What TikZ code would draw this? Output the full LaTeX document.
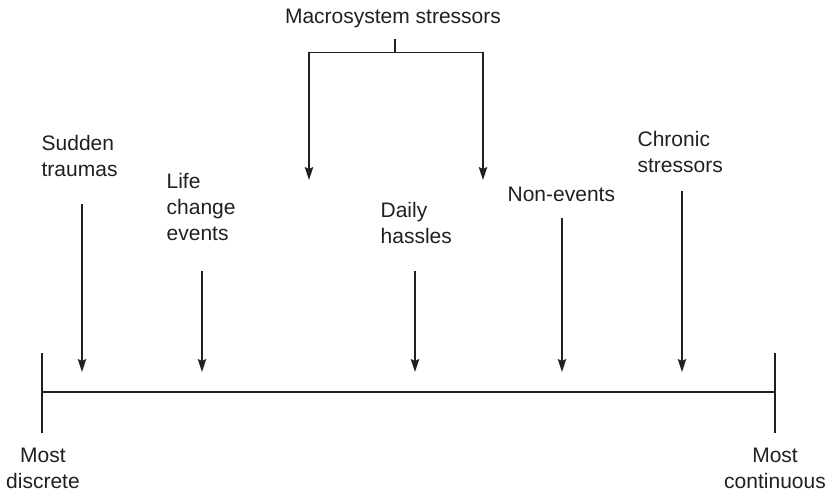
\documentclass[tikz,border=0pt]{standalone}
\usepackage{fontspec}
\setmainfont{Liberation Sans}
\usetikzlibrary{arrows.meta}
\definecolor{ink}{HTML}{231F20}
\begin{document}
\begin{tikzpicture}[x=1pt,y=-1pt,
  line width=1.3pt, draw=ink,
  lbl/.style={inner sep=0pt, align=left, text=ink,
    font=\fontsize{21}{26}\selectfont},
  arr/.style={-{Stealth[length=13pt,width=8.5pt,inset=2pt]}}]
\useasboundingbox (0,0) rectangle (829,495);

% top label and its forked connector
\node[lbl, anchor=base] (ms) at (393,24) {Macrosystem stressors};
\coordinate (ms-stem) at (395,39);
\coordinate (ms-fork) at (395,52.5);
\coordinate (ms-l) at (309,52.5);
\coordinate (ms-r) at (483,52.5);
\coordinate (ms-ltip) at (309,180);
\coordinate (ms-rtip) at (483,180);
\draw (ms-stem) -- (ms-fork);
\draw[arr] (ms-fork) -- (ms-l) -- (ms-ltip);
\draw[arr] (ms-fork) -- (ms-r) -- (ms-rtip);

% stressor labels (base anchor sits on the last line)
\node[lbl, anchor=base west] (st) at (41,176) {Sudden\\traumas};
\node[lbl, anchor=base west] (lc) at (166,240) {Life\\change\\events};
\node[lbl, anchor=base west] (dh) at (380,243) {Daily\\hassles};
\node[lbl, anchor=base west] (ne) at (507,201) {Non-events};
\node[lbl, anchor=base west] (cs) at (637,172) {Chronic\\stressors};

% arrows down to the continuum
\coordinate (st-a) at (82,204);   \coordinate (st-b) at (82,372);
\coordinate (lc-a) at (202,271);  \coordinate (lc-b) at (202,372);
\coordinate (dh-a) at (415,271);  \coordinate (dh-b) at (415,372);
\coordinate (ne-a) at (562,218);  \coordinate (ne-b) at (562,372);
\coordinate (cs-a) at (682,191);  \coordinate (cs-b) at (682,372);
\draw[arr] (st-a) -- (st-b);
\draw[arr] (lc-a) -- (lc-b);
\draw[arr] (dh-a) -- (dh-b);
\draw[arr] (ne-a) -- (ne-b);
\draw[arr] (cs-a) -- (cs-b);

% the continuum with end ticks
\coordinate (l-top) at (42,353);  \coordinate (l-bot) at (42,433);
\coordinate (r-top) at (775,353); \coordinate (r-bot) at (775,433);
\coordinate (l-mid) at (42,392);  \coordinate (r-mid) at (775,392);
\draw (l-top) -- (l-bot);
\draw (r-top) -- (r-bot);
\draw (l-mid) -- (r-mid);

% end labels
\node[lbl, align=center, anchor=base] (md) at (43,488) {Most\\discrete};
\node[lbl, align=center, anchor=base] (mc) at (775,488) {Most\\continuous};
\end{tikzpicture}
\end{document}
